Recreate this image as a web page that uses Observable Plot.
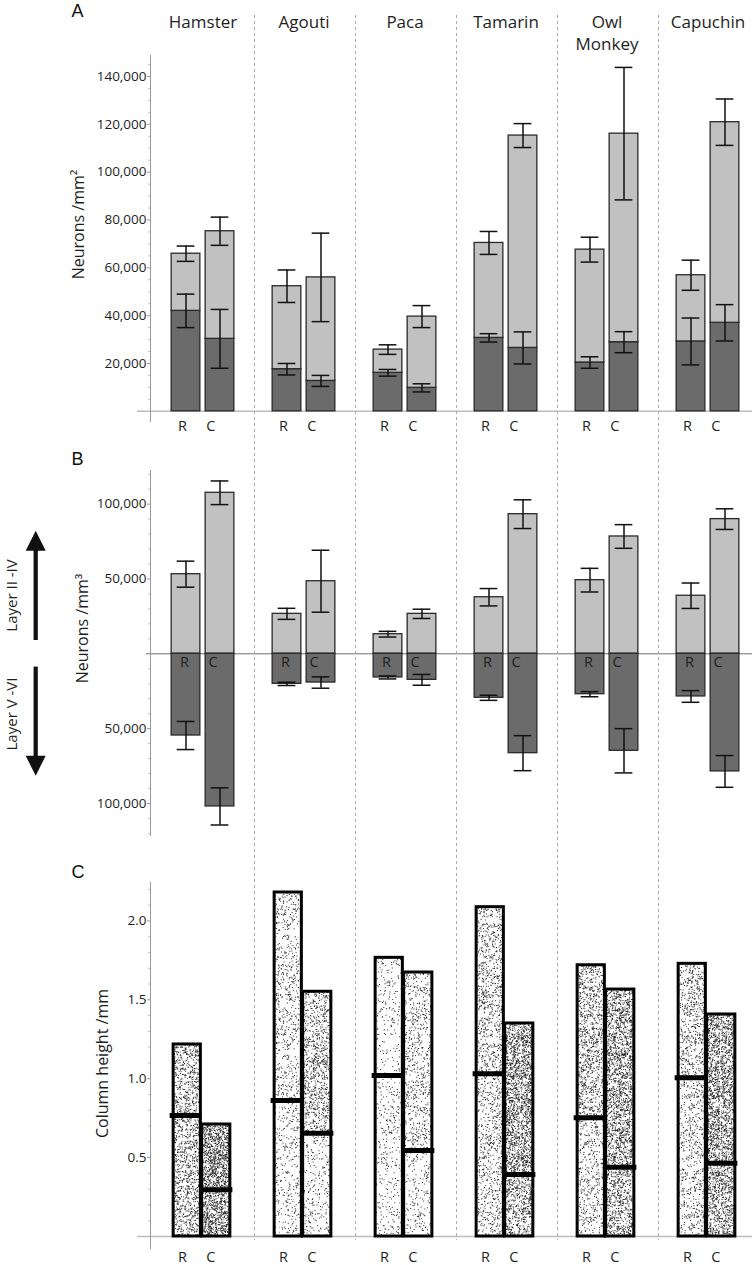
<!DOCTYPE html>
<html><head><meta charset="utf-8">
<script src="https://cdn.jsdelivr.net/npm/d3@7"></script>
<script src="https://cdn.jsdelivr.net/npm/@observablehq/plot@0.6"></script>
<style>
body{margin:0;background:#fff;}
#fig{position:relative;width:752px;height:1265px;overflow:hidden;}
#fig svg{display:block;}
</style></head><body><div id="fig"></div>
<script>
// ---------- data ----------
const species = ["Hamster", "Agouti", "Paca", "Tamarin", "Owl Monkey", "Capuchin"];
const speciesLabels = ["Hamster", "Agouti", "Paca", "Tamarin", "Owl\nMonkey", "Capuchin"];
const sideLabels = ["R", "C"];

// Panel A: neurons / mm² (layers V–VI = infra, layers II–IV = supra, stacked)
const aInfraR    = [42000, 17600, 16100, 30700, 20400, 29200];
const aInfraRErr = [7000, 2400, 1400, 1750, 2400, 9800];
const aSupraR    = [23900, 34700, 9700, 39700, 47200, 27700];
const aTotalRErr = [3200, 6800, 2000, 4800, 5200, 6300];
const aInfraC    = [30300, 12700, 9800, 26500, 28900, 37000];
const aInfraCErr = [12300, 2300, 1700, 6700, 4400, 7600];
const aSupraC    = [45000, 43300, 29800, 88800, 87200, 83900];
const aTotalCErr = [5900, 18500, 4600, 5000, 27700, 9700];
const aTicks = [20000, 40000, 60000, 80000, 100000, 120000, 140000];

// Panel B: neurons / mm³ (layers II–IV up, layers V–VI down)
const bSupraR    = [53200, 26700, 13100, 37800, 49200, 38800];
const bSupraRErr = [8700, 3700, 1900, 5800, 7900, 8500];
const bInfraR    = [54600, 20100, 15800, 29400, 27000, 28500];
const bInfraRErr = [9400, 1100, 1000, 1700, 1700, 3900];
const bSupraC    = [107600, 48500, 26700, 93300, 78400, 90000];
const bSupraCErr = [7900, 20700, 3100, 9600, 7900, 6900];
const bInfraC    = [102000, 19200, 17400, 66400, 64800, 78600];
const bInfraCErr = [12400, 3800, 3600, 11700, 14800, 10600];
const bTicks = [-100000, -50000, 50000, 100000];

// Panel C: column height / mm (total and layers V–VI boundary)
const cTotalR = [1.217, 2.18, 1.766, 2.087, 1.719, 1.728];
const cInfraR = [0.767, 0.862, 1.02, 1.031, 0.752, 1.006];
const cTotalC = [0.71, 1.551, 1.673, 1.35, 1.565, 1.407];
const cInfraC = [0.296, 0.655, 0.545, 0.393, 0.439, 0.465];
const cTicks = [0.5, 1.0, 1.5, 2.0];

// ---------- layout ----------
const WIDTH = 752;
const xRange = [151.3, 759];
const half = (xRange[1] - xRange[0]) / species.length / 2;
const ins = (l, r) => ({insetLeft: half + l, insetRight: half - r});
const geom = {
  R: {bar: ins(-31.5, -2.5), cap: ins(-26, -8), dx: -17, lab: -20.5, labB: -18.5,
      cbar: ins(-29.5, -2), cline: ins(-33, -1)},
  C: {bar: ins(2.5, 31.5), cap: ins(8, 26), dx: 17, lab: 7.8, labB: 10,
      cbar: ins(-1, 27.5), cline: ins(-2, 30)}
};
const INK = "#1e1e1e";
const font = "'Open Sans', sans-serif";
const xScale = {type: "band", domain: species, range: xRange, padding: 0, axis: null};
const baseStyle = {fontFamily: font, fontSize: "13.5px", color: INK, background: "white"};

// ---------- tables ----------
const aBars = [], aErr = [], bBars = [], bErr = [], cSegs = [], cCols = [];
species.forEach((s, i) => {
  const A = {R: [aInfraR, aInfraRErr, aSupraR, aTotalRErr], C: [aInfraC, aInfraCErr, aSupraC, aTotalCErr]};
  const B = {R: [bSupraR, bSupraRErr, bInfraR, bInfraRErr], C: [bSupraC, bSupraCErr, bInfraC, bInfraCErr]};
  const Cc = {R: [cInfraR, cTotalR, bInfraR, bSupraR], C: [cInfraC, cTotalC, bInfraC, bSupraC]};
  for (const side of sideLabels) {
    const [inf, infE, sup, totE] = A[side];
    aBars.push({species: s, side, layer: "infra", y1: 0, y2: inf[i]});
    aBars.push({species: s, side, layer: "supra", y1: inf[i], y2: inf[i] + sup[i]});
    aErr.push({species: s, side, y: inf[i], e: infE[i]});
    aErr.push({species: s, side, y: inf[i] + sup[i], e: totE[i]});
    const [bs, bsE, bi, biE] = B[side];
    bBars.push({species: s, side, layer: "supra", y1: 0, y2: bs[i]});
    bBars.push({species: s, side, layer: "infra", y1: 0, y2: -bi[i]});
    bErr.push({species: s, side, y: bs[i], e: bsE[i]});
    bErr.push({species: s, side, y: -bi[i], e: biE[i]});
    const [ci, ct, di, ds] = Cc[side];
    cSegs.push({species: s, side, y1: 0, y2: ci[i], dens: di[i]});
    cSegs.push({species: s, side, y1: ci[i], y2: ct[i], dens: ds[i]});
    cCols.push({species: s, side, total: ct[i], infra: ci[i]});
  }
});
cSegs.forEach((d, k) => d.pid = `stip${k}`);
const errEnds = (rows) => rows.flatMap(d => [{...d, v: d.y - d.e}, {...d, v: d.y + d.e}]);

// ---------- shared mark builders ----------
function errorMarks(rows) {
  return sideLabels.flatMap(side => {
    const r = rows.filter(d => d.side === side);
    return [
      Plot.ruleX(r, {x: "species", y1: d => d.y - d.e, y2: d => d.y + d.e, dx: geom[side].dx, stroke: "#111", strokeWidth: 1.5}),
      Plot.tickY(errEnds(r), {x: "species", y: "v", ...geom[side].cap, stroke: "#111", strokeWidth: 1.5})
    ];
  });
}
function stackedBars(rows) {
  return sideLabels.map(side => Plot.barY(rows.filter(d => d.side === side),
    {x: "species", y1: "y1", y2: "y2", fill: "layer", stroke: "#2a2a2a", strokeWidth: 1.3, ...geom[side].bar}));
}
function axisMarks(ticks, minor, fmt) {
  return [
    Plot.frame({anchor: "left", stroke: "#9a9a9a"}),
    Plot.axisY(minor, {tickSize: 2, stroke: "#c4c4c4", tickFormat: () => "", label: null}),
    Plot.axisY(ticks, {tickSize: 3, tickPadding: 1, stroke: "#9a9a9a", tickFormat: fmt, fontSize: 13.5, label: null})
  ];
}
function sideText(y, dyv, key, size) {
  return sideLabels.map(side => Plot.text(species, {x: d => d, y: () => y, text: () => side, dx: geom[side][key],
    dy: dyv, lineAnchor: "top", textAnchor: "middle", fontSize: size, fill: INK}));
}
function letter(t, dx, dy) {
  return Plot.text([t], {frameAnchor: "top-left", dx, dy, textAnchor: "start", lineAnchor: "bottom",
    fontSize: 18, fontFamily: "'Liberation Sans', Arial, sans-serif", fill: "#111"});
}
function yLabel(t, dx, dy, size = 16) {
  return Plot.text([t], {frameAnchor: "left", rotate: -90, dx, dy, textAnchor: "middle", lineAnchor: "middle", fontSize: size, fill: INK});
}
const layerColor = {domain: ["supra", "infra"], range: ["#c1c1c1", "#6b6b6b"]};

// ---------- Panel A ----------
const plotA = Plot.plot({
  width: WIDTH, height: 440, marginTop: 55, marginBottom: 19, marginLeft: 150, marginRight: 0,
  x: xScale, y: {domain: [-4265, 148783], label: null}, color: layerColor, style: baseStyle,
  marks: [
    Plot.ruleY([0], {stroke: "#bdbdbd", strokeWidth: 1.5, insetLeft: -13}),
    ...axisMarks(aTicks, d3.range(5000, 150000, 5000).filter(v => v % 20000), d3.format(",")),
    ...stackedBars(aBars),
    ...errorMarks(aErr),
    Plot.text(species, {x: d => d, text: (d, i) => speciesLabels[i], frameAnchor: "top", dy: -43.5,
      lineAnchor: "top", textAnchor: "middle", fontSize: 17, lineHeight: 1.3, fill: INK}),
    ...sideText(0, 9.9, "lab", 14.5),
    letter("A", -79, -39),
    yLabel("Neurons /mm²", -72, -14)
  ]
});

// ---------- Panel B ----------
const arrows = (index, scales) => {
  const y0 = scales.y(0);
  const g = d3.create("svg:g").attr("fill", "#111");
  const x = 35.7, gap = 13.3, len = 122.5, head = 20, hw = 10, sw = 4.2;
  for (const s of [-1, 1]) {
    const a = y0 + s * gap, b = y0 + s * (len - head + 1), tip = y0 + s * len, base = y0 + s * (len - head);
    g.append("rect").attr("x", x - sw / 2).attr("y", Math.min(a, b)).attr("width", sw).attr("height", Math.abs(b - a));
    g.append("path").attr("d", `M${x - hw},${base}L${x + hw},${base}L${x},${tip}Z`);
  }
  return g.node();
};
const plotB = Plot.plot({
  width: WIDTH, height: 400, marginTop: 30, marginBottom: 5, marginLeft: 150, marginRight: 0,
  x: xScale, y: {domain: [-121417, 122486], label: null}, color: layerColor, style: baseStyle,
  marks: [
    Plot.ruleY([0], {stroke: "#707070", strokeWidth: 1, insetLeft: -4}),
    ...axisMarks(bTicks, d3.range(-120000, 125000, 10000).filter(v => v % 50000), d => d3.format(",")(Math.abs(d))),
    ...stackedBars(bBars),
    ...errorMarks(bErr),
    ...sideText(0, 3.4, "labB", 14.5),
    letter("B", -79, -5.7),
    yLabel("Neurons /mm³", -68, -24.5),
    yLabel("Layer II -IV", -138.5, -57.5, 15),
    yLabel("Layer V -VI", -138.5, 61, 15),
    arrows
  ]
});

// ---------- Panel C ----------
function mulberry32(a) {
  return function () {
    a |= 0; a = a + 0x6D2B79F5 | 0;
    let t = Math.imul(a ^ a >>> 15, 1 | a);
    t = t + Math.imul(t ^ t >>> 7, 61 | t) ^ t;
    return ((t ^ t >>> 14) >>> 0) / 4294967296;
  };
}
const TW = 40, TH = 120;
function stipplePath(density, seed) {
  const n = Math.round(density / 200000 * TW * TH);
  const rnd = mulberry32(seed);
  let d = "";
  for (let k = 0; k < n; k++) {
    const x = (rnd() * TW).toFixed(1), y = (rnd() * TH).toFixed(1);
    d += `M${x},${y}h1v1h-1z`;
  }
  return d;
}
const stippleDefs = () => {
  const g = d3.create("svg:g");
  const defs = g.append("defs");
  cSegs.forEach((d, k) => {
    const p = defs.append("pattern").attr("id", d.pid).attr("patternUnits", "userSpaceOnUse")
      .attr("width", TW).attr("height", TH);
    p.append("rect").attr("width", TW).attr("height", TH).attr("fill", "white");
    p.append("path").attr("d", stipplePath(d.dens, 1234 + k * 97)).attr("fill", "#2e2e2e");
  });
  return g.node();
};
const plotC = Plot.plot({
  width: WIDTH, height: 425, marginTop: 41.7, marginBottom: 17, marginLeft: 150, marginRight: 0,
  x: xScale, y: {domain: [-0.076, 2.2453], label: null}, color: {type: "identity"}, style: baseStyle,
  marks: [
    stippleDefs,
    Plot.ruleY([0], {stroke: "#bdbdbd", strokeWidth: 1.5, insetLeft: -13}),
    ...axisMarks(cTicks, d3.range(1, 23).filter(i => i % 5).map(i => i / 10), d3.format(".1f")),
    ...sideLabels.flatMap(side => {
      const g = geom[side];
      return [
        Plot.barY(cSegs.filter(d => d.side === side), {x: "species", y1: "y1", y2: "y2", fill: d => `url(#${d.pid})`, ...g.cbar}),
        Plot.barY(cCols.filter(d => d.side === side), {x: "species", y1: 0, y2: "total", fill: "none", stroke: "#000", strokeWidth: 3, ...g.cbar}),
        Plot.tickY(cCols.filter(d => d.side === side), {x: "species", y: "infra", stroke: "#000", strokeWidth: 5, ...g.cline})
      ];
    }),
    ...sideText(0, 14.7, "lab", 14.5),
    letter("C", -79, -4.7),
    yLabel("Column height /mm", -48, -1.85)
  ]
});

// ---------- species dividers across all panels ----------
const bounds = ["|" + species[0], ...d3.pairs(species).map(([a, b]) => a + "|" + b), species[species.length - 1] + "|"];
const plotDiv = Plot.plot({
  width: WIDTH, height: 1265, marginTop: 15, marginBottom: 25, marginLeft: 0, marginRight: 0,
  x: {type: "point", domain: bounds, range: [151.7, 759.5], padding: 0, axis: null},
  style: {background: "transparent", position: "absolute", left: "0px", top: "0px"},
  marks: [Plot.ruleX(bounds.slice(1, -1), {stroke: "#ababab", strokeWidth: 1, strokeDasharray: "3,3"})]
});

const fig = document.getElementById("fig");
fig.append(plotA, plotB, plotC, plotDiv);
</script></body></html>
